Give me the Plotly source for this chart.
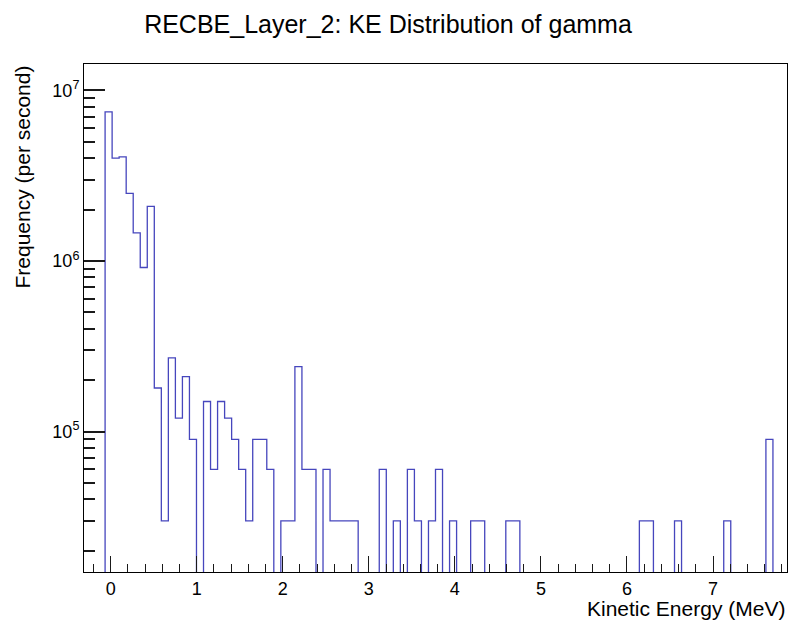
import math
import plotly.graph_objects as go

# Histogram binning: 100 uniform bins in kinetic energy (MeV)
X_MIN = -0.31
BIN_WIDTH = 0.0817
N_BINS = 100

# Non-empty bins (index -> frequency in counts per second)
bin_index = [3, 4, 5, 6, 7, 8, 9, 10, 11, 12, 13, 14, 15,
             17, 18, 19, 20, 21, 22, 23, 24, 25, 26,
             28, 29, 30, 31, 32, 34, 35, 36, 37, 38,
             42, 44, 46, 47, 49, 50, 52, 55, 56, 60, 61,
             79, 80, 84, 91, 97]
frequency = [7.47e6, 4.00e6, 4.07e6, 2.49e6, 1.46e6, 9.15e5, 2.09e6, 1.8e5, 3.0e4, 2.7e5, 1.2e5, 2.1e5, 9.0e4,
             1.5e5, 6.0e4, 1.5e5, 1.2e5, 9.0e4, 6.0e4, 3.0e4, 9.0e4, 9.0e4, 6.0e4,
             3.0e4, 3.0e4, 2.4e5, 6.0e4, 6.0e4, 6.0e4, 3.0e4, 3.0e4, 3.0e4, 3.0e4,
             6.0e4, 3.0e4, 6.0e4, 3.0e4, 3.0e4, 6.0e4, 3.0e4, 3.0e4, 3.0e4, 3.0e4, 3.0e4,
             3.0e4, 3.0e4, 3.0e4, 3.0e4, 9.0e4]

x_tick_vals = [0, 1, 2, 3, 4, 5, 6, 7]
y_tick_vals = [1e5, 1e6, 1e7]
y_tick_text = ["10<sup>5</sup>", "10<sup>6</sup>", "10<sup>7</sup>"]

TITLE = "RECBE_Layer_2: KE Distribution of gamma"
X_TITLE = "Kinetic Energy (MeV)"
Y_TITLE = "Frequency (per second)"

# Full bin contents
counts = [0.0] * N_BINS
for i, f in zip(bin_index, frequency):
    counts[i] = f

x_max = X_MIN + N_BINS * BIN_WIDTH
y_range = [4.177, 7.154]  # log10 axis limits

# Empty bins are drawn below the visible range so the outline drops to the axis
floor_val = 10 ** (y_range[0] - 2)
edges = [X_MIN + i * BIN_WIDTH for i in range(N_BINS + 1)]
step_y = [c if c > 0 else floor_val for c in counts]
step_y.append(step_y[-1])

FONT = "Liberation Sans, Arial, Helvetica, sans-serif"
TICK_COLOR = "#1a1a1a"

# minor tick positions (0.2 MeV steps on x, 2..9 per decade on y)
x_minor = [round(-0.2 + 0.2 * k, 1) for k in range(41)]
x_minor = [v for v in x_minor if abs(v - round(v)) > 1e-6 and X_MIN < v < x_max]
y_minor = [m * 10 ** e for e in (4, 5, 6) for m in range(2, 10)
           if y_range[0] < math.log10(m * 10 ** e) < y_range[1]]

fig = go.Figure()
fig.add_trace(go.Scatter(
    x=edges, y=step_y, mode="lines",
    line=dict(shape="hv", color="#4646bd", width=1.3),
    hoverinfo="skip", showlegend=False,
))
# overlaid axes carrying the short minor ticks
fig.add_trace(go.Scatter(
    x=[edges[0]], y=[floor_val], xaxis="x2", yaxis="y2", mode="lines",
    hoverinfo="skip", showlegend=False, line=dict(width=0),
))

fig.update_layout(
    width=790, height=623,
    margin=dict(l=84, r=3, t=64, b=51),
    plot_bgcolor="white",
    showlegend=False,
    font=dict(family=FONT, color="black", size=18),
    title=dict(text=TITLE, x=388 / 790, xref="container", xanchor="center",
               y=1 - 24 / 623, yref="container", yanchor="middle",
               font=dict(size=25, family=FONT, color="black")),
    xaxis=dict(
        range=[X_MIN, x_max], showgrid=False, zeroline=False,
        showline=True, linecolor="black", mirror=True,
        tickmode="array", tickvals=x_tick_vals,
        ticks="inside", ticklen=16, tickwidth=1, tickcolor=TICK_COLOR,
    ),
    xaxis2=dict(
        range=[X_MIN, x_max], overlaying="x", side="bottom",
        showgrid=False, zeroline=False,
        tickmode="array", tickvals=x_minor, showticklabels=False,
        ticks="inside", ticklen=8, tickwidth=1, tickcolor=TICK_COLOR,
    ),
    yaxis=dict(
        type="log", range=y_range, showgrid=False,
        showline=True, linecolor="black", mirror=True,
        tickmode="array", tickvals=y_tick_vals, ticktext=y_tick_text,
        ticks="inside", ticklen=21, tickwidth=1.5, tickcolor=TICK_COLOR,
    ),
    yaxis2=dict(
        type="log", range=y_range, overlaying="y", side="left",
        showgrid=False,
        tickmode="array", tickvals=y_minor, showticklabels=False,
        ticks="inside", ticklen=11, tickwidth=1.5, tickcolor=TICK_COLOR,
    ),
    annotations=[
        dict(text=X_TITLE, xref="paper", yref="paper", x=1.0, y=-0.072,
             xanchor="right", yanchor="middle", showarrow=False,
             font=dict(size=21, family=FONT, color="black")),
        dict(text=Y_TITLE, xref="paper", yref="paper", x=(22 - 84) / 703, y=1.0,
             xanchor="center", yanchor="top", textangle=-90, showarrow=False,
             font=dict(size=21, family=FONT, color="black")),
    ],
)

fig.write_html("out.html", config={"displayModeBar": False})
